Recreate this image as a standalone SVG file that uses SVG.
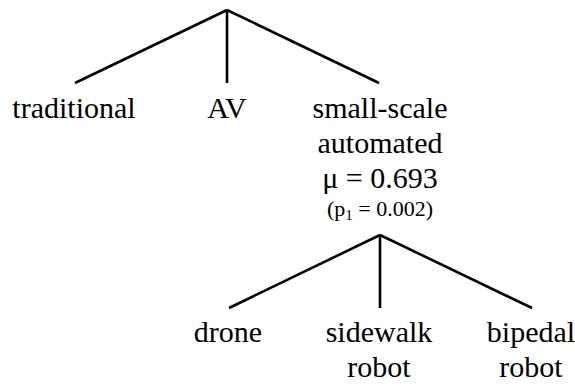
<svg xmlns="http://www.w3.org/2000/svg" width="575" height="386" viewBox="0 0 575 386">
<style>
.e{stroke:#000;stroke-width:2.6;fill:none}
.t{font-family:'Liberation Serif',serif;font-size:30px;fill:#000;text-anchor:middle}
.s{font-size:22px}
</style>
<rect width="575" height="386" fill="#fff"/>
<g id="connectors">
<line class="e" x1="227" y1="10" x2="75" y2="83"/>
<line class="e" x1="227" y1="10" x2="227" y2="83"/>
<line class="e" x1="227" y1="10" x2="379" y2="83"/>
<line class="e" x1="380" y1="235" x2="229" y2="308"/>
<line class="e" x1="380" y1="235" x2="380" y2="308"/>
<line class="e" x1="380" y1="235" x2="532" y2="308"/>
</g>
<g id="traditional"><text class="t" x="74" y="118">traditional</text></g>
<g id="av"><text class="t" x="227" y="118">AV</text></g>
<g id="small-scale">
<text class="t" x="380" y="118">small-scale</text>
<text class="t" x="380" y="153">automated</text>
<text class="t" x="380" y="188">μ = 0.693</text>
<text class="t s" x="380" y="216">(p<tspan font-size="15" dy="4">1</tspan><tspan dy="-4"> = 0.002)</tspan></text>
</g>
<g id="drone"><text class="t" x="228" y="342">drone</text></g>
<g id="sidewalk"><text class="t" x="379" y="342">sidewalk</text><text class="t" x="379" y="377">robot</text></g>
<g id="bipedal"><text class="t" x="531" y="342">bipedal</text><text class="t" x="531" y="377">robot</text></g>
</svg>
